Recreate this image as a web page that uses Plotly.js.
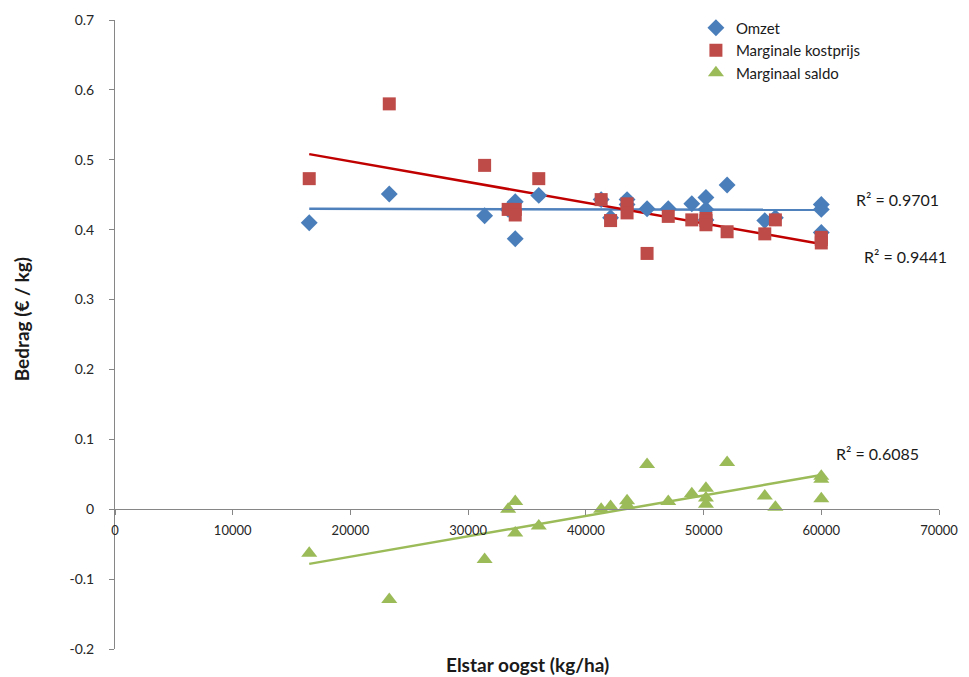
<!DOCTYPE html>
<html>
<head>
<meta charset="utf-8">
<script src="https://cdn.plot.ly/plotly-3.0.1.min.js"></script>
<style>
  html, body { margin: 0; padding: 0; background: #ffffff; }
  #chart { width: 969px; height: 677px; }
</style>
</head>
<body>
<div id="chart"></div>
<script>
// Elstar harvest (kg/ha) per farm
const oogst = [16500, 23300, 31400, 33400, 34000, 34000, 36000, 41300, 42100,
               43500, 43500, 45200, 47000, 49000, 50200, 50200, 50200, 52000,
               55200, 56100, 60000, 60000, 60000];
// Revenue per kg (€/kg)
const omzet = [0.410, 0.451, 0.420, 0.429, 0.440, 0.387, 0.449, 0.443, 0.417,
               0.443, 0.436, 0.430, 0.430, 0.437, 0.446, 0.429, 0.414, 0.464,
               0.413, 0.417, 0.436, 0.429, 0.396];
// Marginal cost price per kg (€/kg)
const kostprijs = [0.473, 0.580, 0.492, 0.429, 0.429, 0.421, 0.473, 0.443, 0.413,
                   0.437, 0.424, 0.366, 0.419, 0.414, 0.416, 0.413, 0.407, 0.397,
                   0.394, 0.414, 0.389, 0.386, 0.381];
// Marginal balance per kg (€/kg)
const saldo = [-0.063, -0.129, -0.072, 0.000, 0.011, -0.034, -0.024, 0.000, 0.004,
               0.006, 0.012, 0.064, 0.011, 0.022, 0.030, 0.016, 0.007, 0.067,
               0.019, 0.003, 0.047, 0.043, 0.015];

const seriesNames = ['Omzet', 'Marginale kostprijs', 'Marginaal saldo'];
const r2Labels = ['R\u00B2 = 0.9701', 'R\u00B2 = 0.9441', 'R\u00B2 = 0.6085'];

const xTickVals = [0, 10000, 20000, 30000, 40000, 50000, 60000, 70000];
const xTickText = ['0', '10000', '20000', '30000', '40000', '50000', '60000', '70000'];
const yTickVals = [-0.2, -0.1, 0, 0.1, 0.2, 0.3, 0.4, 0.5, 0.6, 0.7];
const yTickText = ['-0.2', '-0.1', '0', '0.1', '0.2', '0.3', '0.4', '0.5', '0.6', '0.7'];

// Least-squares line through a series, returned as its two end points
function trend(xs, ys) {
  const n = xs.length;
  let sx = 0, sy = 0, sxx = 0, sxy = 0;
  for (let i = 0; i < n; i++) {
    sx += xs[i]; sy += ys[i]; sxx += xs[i] * xs[i]; sxy += xs[i] * ys[i];
  }
  const b = (n * sxy - sx * sy) / (n * sxx - sx * sx);
  const a = (sy - b * sx) / n;
  const x0 = Math.min(...xs), x1 = Math.max(...xs);
  return { x: [x0, x1], y: [a + b * x0, a + b * x1] };
}

const FONT = 'Lato, "Open Sans", "DejaVu Sans", sans-serif';

const styles = [
  { color: '#4A7EBB', symbol: 'diamond', size: 13, line: '#4F81BD', width: 2.5 },
  { color: '#BE4B48', symbol: 'square', size: 13, line: '#C00000', width: 2.5 },
  { color: '#9BBB59', symbol: 'triangle-up', size: 14, line: '#9BBB59', width: 2.5 }
];
const values = [omzet, kostprijs, saldo];

const traces = [];
values.forEach((ys, i) => {
  const t = trend(oogst, ys);
  traces.push({
    x: t.x, y: t.y, mode: 'lines', type: 'scatter', showlegend: false,
    hoverinfo: 'skip',
    line: { color: styles[i].line, width: styles[i].width }
  });
});
values.forEach((ys, i) => {
  traces.push({
    x: oogst, y: ys, mode: 'markers', type: 'scatter', name: seriesNames[i],
    marker: { symbol: styles[i].symbol, size: styles[i].size, color: styles[i].color,
              line: { width: 0 } }
  });
});

const layout = {
  width: 969, height: 677,
  margin: { l: 115, r: 30, t: 19, b: 28 },
  paper_bgcolor: '#ffffff', plot_bgcolor: '#ffffff',
  font: { family: FONT, size: 13, color: '#262626' },
  showlegend: true,
  legend: {
    x: 0.705, y: 1.012, xanchor: 'left', yanchor: 'top',
    bgcolor: 'rgba(0,0,0,0)', borderwidth: 0,
    font: { family: FONT, size: 15, color: '#1a1a1a' },
    traceorder: 'normal', itemwidth: 30
  },
  xaxis: {
    range: [0, 70000], tickvals: xTickVals, ticktext: xTickText,
    anchor: 'free', position: 0.2222,
    showgrid: false, zeroline: false, showline: true,
    linecolor: '#868686', linewidth: 1,
    ticks: 'outside', ticklen: 5, tickcolor: '#868686',
    ticklabelstandoff: 4,
    tickfont: { family: FONT, size: 13, color: '#262626' }
  },
  yaxis: {
    range: [-0.2, 0.7], tickvals: yTickVals, ticktext: yTickText,
    showgrid: false, zeroline: false, showline: true,
    linecolor: '#868686', linewidth: 1,
    ticks: 'outside', ticklen: 5, tickcolor: '#868686',
    ticklabelstandoff: 12,
    tickfont: { family: FONT, size: 14, color: '#262626' }
  },
  annotations: [
    { text: '<b>Elstar oogst (kg/ha)</b>', xref: 'paper', yref: 'paper',
      x: 0.5, y: -0.046, xanchor: 'center', yanchor: 'bottom', showarrow: false,
      font: { family: FONT, size: 19, color: '#1a1a1a' } },
    { text: '<b>Bedrag (€ / kg)</b>', xref: 'paper', yref: 'paper',
      x: -0.113, y: 0.524, xanchor: 'center', yanchor: 'middle', showarrow: false,
      textangle: -90, font: { family: FONT, size: 19, color: '#1a1a1a' } },
    { text: r2Labels[0], xref: 'x', yref: 'y', x: 66500, y: 0.443,
      showarrow: false, font: { family: FONT, size: 16, color: '#1a1a1a' } },
    { text: r2Labels[1], xref: 'x', yref: 'y', x: 67150, y: 0.361,
      showarrow: false, font: { family: FONT, size: 16, color: '#1a1a1a' } },
    { text: r2Labels[2], xref: 'x', yref: 'y', x: 64800, y: 0.080,
      showarrow: false, font: { family: FONT, size: 16, color: '#1a1a1a' } }
  ]
};

Plotly.newPlot('chart', traces, layout, { displayModeBar: false, staticPlot: true });
</script>
</body>
</html>
